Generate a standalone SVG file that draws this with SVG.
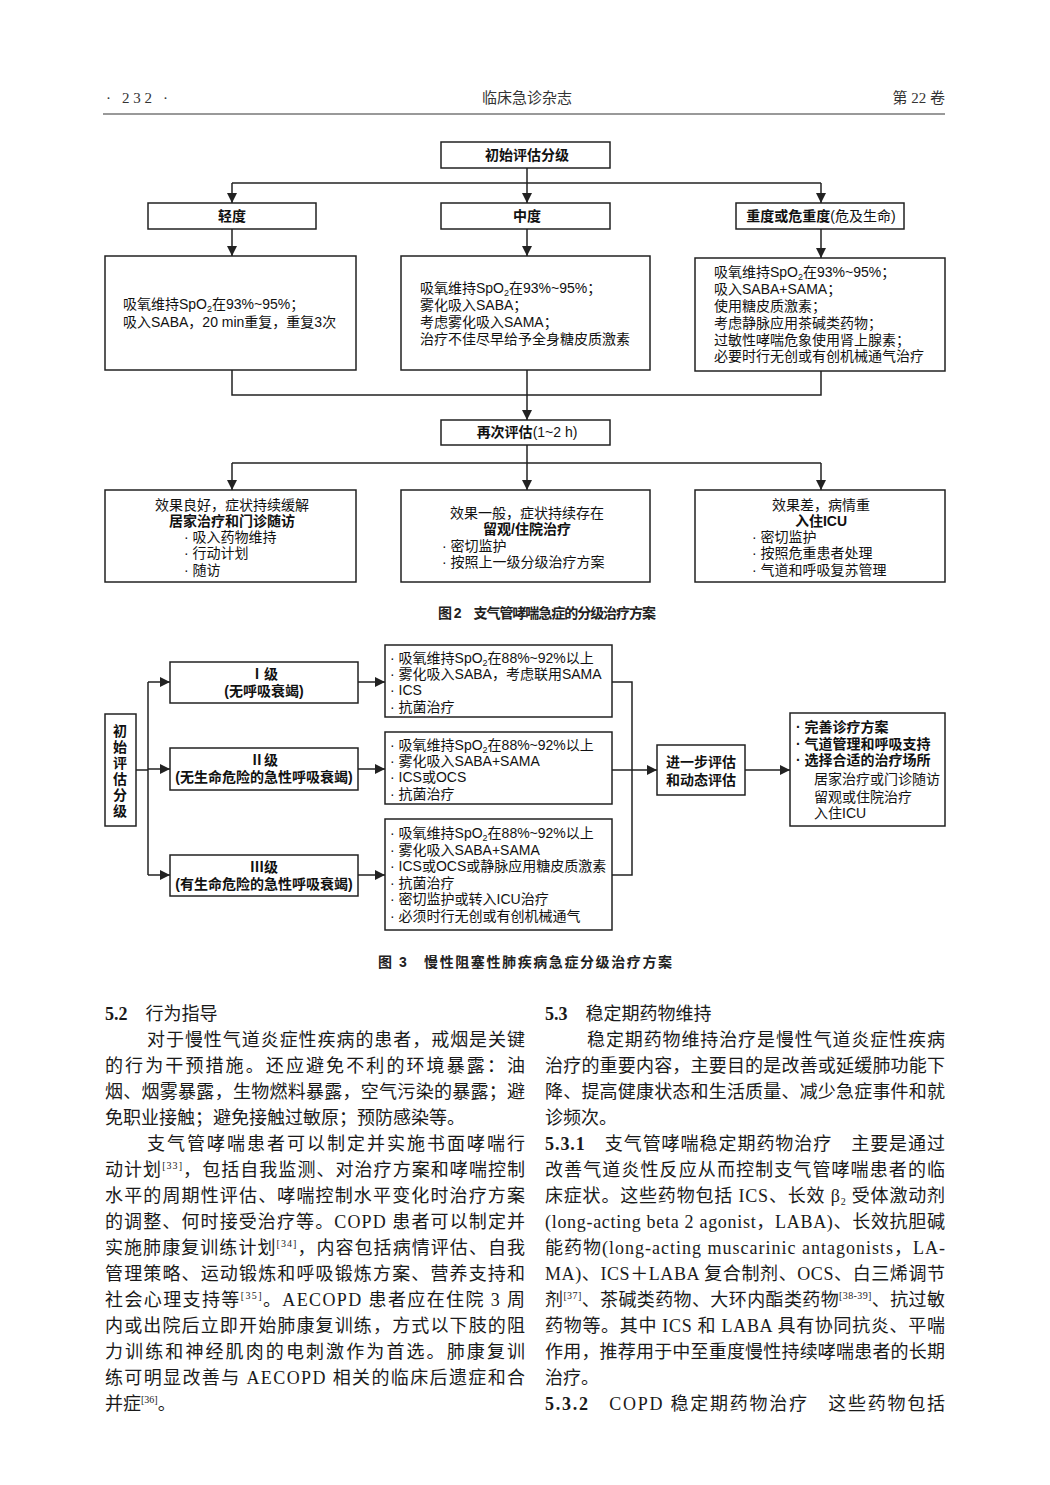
<svg xmlns="http://www.w3.org/2000/svg" width="1050" height="1485" viewBox="0 0 1050 1485">
<style>
.bx{fill:#fff;stroke:#222;stroke-width:1.5}
.ln{fill:none;stroke:#222;stroke-width:1.5}
.ar{fill:none;stroke:#222;stroke-width:1.5;marker-end:url(#ah)}
.t{font-family:"Liberation Sans","Noto Sans CJK SC",sans-serif;font-size:14px;fill:#111}
.b{font-weight:bold}
.c{text-anchor:middle}
.s{font-family:"Liberation Serif","Noto Sans CJK SC",serif;font-size:18px;fill:#1a1a1a}
.h{font-family:"Liberation Serif","Noto Sans CJK SC",serif;font-size:15px;fill:#333}
.cap{font-family:"Liberation Sans","Noto Sans CJK SC",sans-serif;font-size:14px;font-weight:bold;fill:#222}
.sup{font-size:10px}
.sub{font-size:9px}
</style>
<defs>
<marker id="ah" markerUnits="userSpaceOnUse" markerWidth="10" markerHeight="10" refX="10" refY="5" orient="auto">
<path d="M0,0 L10,5 L0,10 z" fill="#222"/>
</marker>
</defs>
<rect width="1050" height="1485" fill="#fff"/>

<g id="header">
<text class="h" x="106" y="103" textLength="62" lengthAdjust="spacing">· 232 ·</text>
<text class="h c" x="527" y="103">临床急诊杂志</text>
<text class="h" x="945" y="103" text-anchor="end">第 22 卷</text>
<line x1="103" y1="114" x2="945" y2="114" stroke="#999" stroke-width="2"/>
</g>

<!-- Figure 2 -->
<g id="f2-connectors">
<polyline class="ln" points="527,168 527,183"/>
<polyline class="ln" points="232,183 821,183"/>
<line class="ar" x1="232" y1="183" x2="232" y2="203"/>
<line class="ar" x1="527" y1="183" x2="527" y2="203"/>
<line class="ar" x1="821" y1="183" x2="821" y2="203"/>
<line class="ar" x1="232" y1="229" x2="232" y2="256"/>
<line class="ar" x1="527" y1="229" x2="527" y2="256"/>
<line class="ar" x1="821" y1="229" x2="821" y2="258"/>
<polyline class="ln" points="232,370 232,395 821,395 821,371"/>
<line class="ar" x1="527" y1="370" x2="527" y2="420"/>
<line class="ar" x1="527" y1="445" x2="527" y2="490"/>
<polyline class="ln" points="232,463 821,463"/>
<line class="ar" x1="232" y1="463" x2="232" y2="490"/>
<line class="ar" x1="821" y1="463" x2="821" y2="490"/>
</g>

<g id="f2-init">
<rect class="bx" x="441" y="142" width="169" height="26"/>
<text class="t b c" x="527" y="160">初始评估分级</text>
</g>
<g id="f2-mild">
<rect class="bx" x="148" y="203" width="168" height="26"/>
<text class="t b c" x="232" y="221">轻度</text>
</g>
<g id="f2-moderate">
<rect class="bx" x="441" y="203" width="169" height="26"/>
<text class="t b c" x="527" y="221">中度</text>
</g>
<g id="f2-severe">
<rect class="bx" x="736" y="203" width="168" height="26"/>
<text class="t c" x="821" y="221"><tspan class="b">重度或危重度</tspan>(危及生命)</text>
</g>
<g id="f2-mild-tx">
<rect class="bx" x="105" y="256" width="251" height="114"/>
<text class="t" x="123" y="309">吸氧维持SpO<tspan class="sub" dy="3">2</tspan><tspan dy="-3">在93%~95%；</tspan></text>
<text class="t" x="123" y="327">吸入SABA，20 min重复，重复3次</text>
</g>
<g id="f2-mod-tx">
<rect class="bx" x="401" y="256" width="249" height="114"/>
<text class="t" x="420" y="293">吸氧维持SpO<tspan class="sub" dy="3">2</tspan><tspan dy="-3">在93%~95%；</tspan></text>
<text class="t" x="420" y="310">雾化吸入SABA；</text>
<text class="t" x="420" y="327">考虑雾化吸入SAMA；</text>
<text class="t" x="420" y="344">治疗不佳尽早给予全身糖皮质激素</text>
</g>
<g id="f2-sev-tx">
<rect class="bx" x="695" y="258" width="250" height="113"/>
<text class="t" x="714" y="277">吸氧维持SpO<tspan class="sub" dy="3">2</tspan><tspan dy="-3">在93%~95%；</tspan></text>
<text class="t" x="714" y="294">吸入SABA+SAMA；</text>
<text class="t" x="714" y="311">使用糖皮质激素；</text>
<text class="t" x="714" y="328">考虑静脉应用茶碱类药物；</text>
<text class="t" x="714" y="345">过敏性哮喘危象使用肾上腺素；</text>
<text class="t" x="714" y="361">必要时行无创或有创机械通气治疗</text>
</g>
<g id="f2-reassess">
<rect class="bx" x="441" y="420" width="169" height="25"/>
<text class="t c" x="527" y="437"><tspan class="b">再次评估</tspan>(1~2 h)</text>
</g>
<g id="f2-good">
<rect class="bx" x="105" y="490" width="251" height="92"/>
<text class="t c" x="232" y="510">效果良好，症状持续缓解</text>
<text class="t b c" x="232" y="526">居家治疗和门诊随访</text>
<text class="t" x="184" y="542">· 吸入药物维持</text>
<text class="t" x="184" y="558">· 行动计划</text>
<text class="t" x="184" y="575">· 随访</text>
</g>
<g id="f2-fair">
<rect class="bx" x="401" y="490" width="249" height="92"/>
<text class="t c" x="527" y="518">效果一般，症状持续存在</text>
<text class="t b c" x="527" y="534">留观/住院治疗</text>
<text class="t" x="442" y="551">· 密切监护</text>
<text class="t" x="442" y="567">· 按照上一级分级治疗方案</text>
</g>
<g id="f2-poor">
<rect class="bx" x="695" y="490" width="250" height="92"/>
<text class="t c" x="821" y="510">效果差，病情重</text>
<text class="t b c" x="821" y="526">入住ICU</text>
<text class="t" x="752" y="542">· 密切监护</text>
<text class="t" x="752" y="558">· 按照危重患者处理</text>
<text class="t" x="752" y="575">· 气道和呼吸复苏管理</text>
</g>
<text class="cap" x="438" y="618" textLength="218" lengthAdjust="spacing">图 2　支气管哮喘急症的分级治疗方案</text>

<!-- Figure 3 -->
<g id="f3-connectors">
<polyline class="ln" points="136,770 148,770"/>
<polyline class="ln" points="148,682 148,875"/>
<line class="ar" x1="148" y1="682" x2="170" y2="682"/>
<line class="ar" x1="148" y1="769" x2="170" y2="769"/>
<line class="ar" x1="148" y1="875" x2="170" y2="875"/>
<line class="ar" x1="358" y1="682" x2="385" y2="682"/>
<line class="ar" x1="358" y1="769" x2="385" y2="769"/>
<line class="ar" x1="358" y1="875" x2="385" y2="875"/>
<polyline class="ln" points="612,682 632,682 632,875 612,875"/>
<line class="ar" x1="612" y1="770" x2="657" y2="770"/>
<line class="ar" x1="745" y1="770" x2="790" y2="770"/>
</g>
<g id="f3-init">
<rect class="bx" x="105" y="714" width="31" height="112"/>
<text class="t b c" x="120" y="736">初</text>
<text class="t b c" x="120" y="752">始</text>
<text class="t b c" x="120" y="768">评</text>
<text class="t b c" x="120" y="784">估</text>
<text class="t b c" x="120" y="800">分</text>
<text class="t b c" x="120" y="816">级</text>
</g>
<g id="f3-g1">
<rect class="bx" x="170" y="662" width="188" height="41"/>
<text class="t b c" x="264" y="679">Ⅰ级</text>
<text class="t b c" x="264" y="696">(无呼吸衰竭)</text>
</g>
<g id="f3-g2">
<rect class="bx" x="170" y="748" width="188" height="42"/>
<text class="t b c" x="264" y="765">Ⅱ级</text>
<text class="t b c" x="264" y="782">(无生命危险的急性呼吸衰竭)</text>
</g>
<g id="f3-g3">
<rect class="bx" x="170" y="855" width="188" height="41"/>
<text class="t b c" x="264" y="872">Ⅲ级</text>
<text class="t b c" x="264" y="889">(有生命危险的急性呼吸衰竭)</text>
</g>
<g id="f3-l1">
<rect class="bx" x="385" y="645" width="227" height="72"/>
<text class="t" x="390" y="663">· 吸氧维持SpO<tspan class="sub" dy="3">2</tspan><tspan dy="-3">在88%~92%以上</tspan></text>
<text class="t" x="390" y="679">· 雾化吸入SABA，考虑联用SAMA</text>
<text class="t" x="390" y="695">· ICS</text>
<text class="t" x="390" y="712">· 抗菌治疗</text>
</g>
<g id="f3-l2">
<rect class="bx" x="385" y="732" width="227" height="72"/>
<text class="t" x="390" y="750">· 吸氧维持SpO<tspan class="sub" dy="3">2</tspan><tspan dy="-3">在88%~92%以上</tspan></text>
<text class="t" x="390" y="766">· 雾化吸入SABA+SAMA</text>
<text class="t" x="390" y="782">· ICS或OCS</text>
<text class="t" x="390" y="799">· 抗菌治疗</text>
</g>
<g id="f3-l3">
<rect class="bx" x="385" y="819" width="227" height="111"/>
<text class="t" x="390" y="838">· 吸氧维持SpO<tspan class="sub" dy="3">2</tspan><tspan dy="-3">在88%~92%以上</tspan></text>
<text class="t" x="390" y="855">· 雾化吸入SABA+SAMA</text>
<text class="t" x="390" y="871">· ICS或OCS或静脉应用糖皮质激素</text>
<text class="t" x="390" y="888">· 抗菌治疗</text>
<text class="t" x="390" y="904">· 密切监护或转入ICU治疗</text>
<text class="t" x="390" y="921">· 必须时行无创或有创机械通气</text>
</g>
<g id="f3-further">
<rect class="bx" x="657" y="745" width="88" height="50"/>
<text class="t b c" x="701" y="767">进一步评估</text>
<text class="t b c" x="701" y="785">和动态评估</text>
</g>
<g id="f3-out">
<rect class="bx" x="790" y="713" width="155" height="113"/>
<text class="t b" x="796" y="732">· 完善诊疗方案</text>
<text class="t b" x="796" y="749">· 气道管理和呼吸支持</text>
<text class="t b" x="796" y="765">· 选择合适的治疗场所</text>
<text class="t" x="814" y="784">居家治疗或门诊随访</text>
<text class="t" x="814" y="802">留观或住院治疗</text>
<text class="t" x="814" y="818">入住ICU</text>
</g>
<text class="cap" x="378" y="967" textLength="294" lengthAdjust="spacing">图 3　慢性阻塞性肺疾病急症分级治疗方案</text>

<!-- Body text left column -->
<g id="body-left">
<text class="s" x="105" y="1020"><tspan font-weight="bold">5.2</tspan>　行为指导</text>
<text class="s" x="147" y="1046" textLength="378" lengthAdjust="spacing">对于慢性气道炎症性疾病的患者，戒烟是关键</text>
<text class="s" x="105" y="1072" textLength="420" lengthAdjust="spacing">的行为干预措施。还应避免不利的环境暴露：油</text>
<text class="s" x="105" y="1098" textLength="420" lengthAdjust="spacing">烟、烟雾暴露，生物燃料暴露，空气污染的暴露；避</text>
<text class="s" x="105" y="1124">免职业接触；避免接触过敏原；预防感染等。</text>
<text class="s" x="147" y="1150" textLength="378" lengthAdjust="spacing">支气管哮喘患者可以制定并实施书面哮喘行</text>
<text class="s" x="105" y="1176" textLength="420" lengthAdjust="spacing">动计划<tspan class="sup" dy="-7">[33]</tspan><tspan dy="7">，包括自我监测、对治疗方案和哮喘控制</tspan></text>
<text class="s" x="105" y="1202" textLength="420" lengthAdjust="spacing">水平的周期性评估、哮喘控制水平变化时治疗方案</text>
<text class="s" x="105" y="1228" textLength="420" lengthAdjust="spacing">的调整、何时接受治疗等。COPD 患者可以制定并</text>
<text class="s" x="105" y="1254" textLength="420" lengthAdjust="spacing">实施肺康复训练计划<tspan class="sup" dy="-7">[34]</tspan><tspan dy="7">，内容包括病情评估、自我</tspan></text>
<text class="s" x="105" y="1280" textLength="420" lengthAdjust="spacing">管理策略、运动锻炼和呼吸锻炼方案、营养支持和</text>
<text class="s" x="105" y="1306" textLength="420" lengthAdjust="spacing">社会心理支持等<tspan class="sup" dy="-7">[35]</tspan><tspan dy="7">。AECOPD 患者应在住院 3 周</tspan></text>
<text class="s" x="105" y="1332" textLength="420" lengthAdjust="spacing">内或出院后立即开始肺康复训练，方式以下肢的阻</text>
<text class="s" x="105" y="1358" textLength="420" lengthAdjust="spacing">力训练和神经肌肉的电刺激作为首选。肺康复训</text>
<text class="s" x="105" y="1384" textLength="420" lengthAdjust="spacing">练可明显改善与 AECOPD 相关的临床后遗症和合</text>
<text class="s" x="105" y="1410">并症<tspan class="sup" dy="-7">[36]</tspan><tspan dy="7">。</tspan></text>
</g>

<!-- Body text right column -->
<g id="body-right">
<text class="s" x="545" y="1020"><tspan font-weight="bold">5.3</tspan>　稳定期药物维持</text>
<text class="s" x="587" y="1046" textLength="358" lengthAdjust="spacing">稳定期药物维持治疗是慢性气道炎症性疾病</text>
<text class="s" x="545" y="1072" textLength="400" lengthAdjust="spacing">治疗的重要内容，主要目的是改善或延缓肺功能下</text>
<text class="s" x="545" y="1098" textLength="400" lengthAdjust="spacing">降、提高健康状态和生活质量、减少急症事件和就</text>
<text class="s" x="545" y="1124">诊频次。</text>
<text class="s" x="545" y="1150" textLength="400" lengthAdjust="spacing"><tspan font-weight="bold">5.3.1</tspan>　支气管哮喘稳定期药物治疗　主要是通过</text>
<text class="s" x="545" y="1176" textLength="400" lengthAdjust="spacing">改善气道炎性反应从而控制支气管哮喘患者的临</text>
<text class="s" x="545" y="1202" textLength="400" lengthAdjust="spacing">床症状。这些药物包括 ICS、长效 β<tspan class="sup" dy="3">2</tspan><tspan dy="-3"> 受体激动剂</tspan></text>
<text class="s" x="545" y="1228" textLength="400" lengthAdjust="spacing">(long-acting beta 2 agonist，LABA)、长效抗胆碱</text>
<text class="s" x="545" y="1254" textLength="400" lengthAdjust="spacing">能药物(long-acting muscarinic antagonists，LA-</text>
<text class="s" x="545" y="1280" textLength="400" lengthAdjust="spacing">MA)、ICS＋LABA 复合制剂、OCS、白三烯调节</text>
<text class="s" x="545" y="1306" textLength="400" lengthAdjust="spacing">剂<tspan class="sup" dy="-7">[37]</tspan><tspan dy="7">、茶碱类药物、大环内酯类药物</tspan><tspan class="sup" dy="-7">[38-39]</tspan><tspan dy="7">、抗过敏</tspan></text>
<text class="s" x="545" y="1332" textLength="400" lengthAdjust="spacing">药物等。其中 ICS 和 LABA 具有协同抗炎、平喘</text>
<text class="s" x="545" y="1358" textLength="400" lengthAdjust="spacing">作用，推荐用于中至重度慢性持续哮喘患者的长期</text>
<text class="s" x="545" y="1384">治疗。</text>
<text class="s" x="545" y="1410" textLength="400" lengthAdjust="spacing"><tspan font-weight="bold">5.3.2</tspan>　COPD 稳定期药物治疗　这些药物包括</text>
</g>
</svg>
